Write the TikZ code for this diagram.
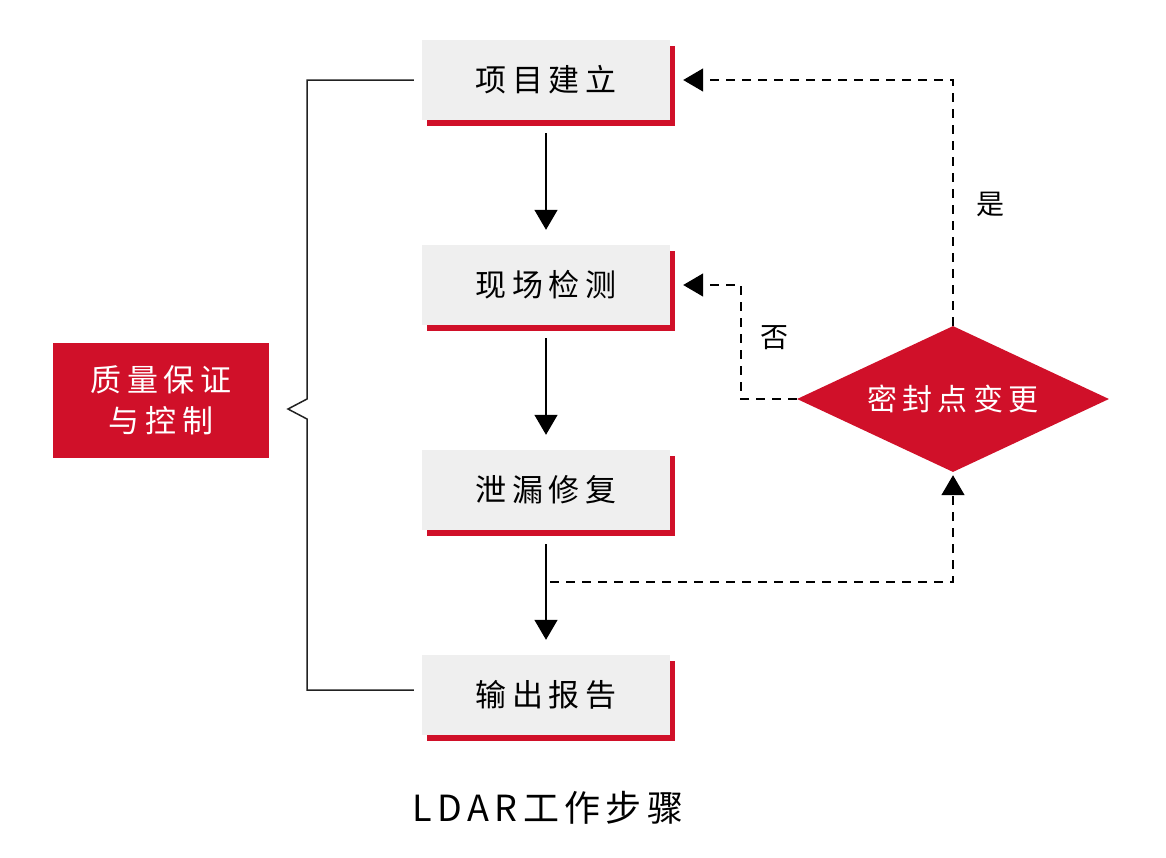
\documentclass[tikz,border=0pt]{standalone}
\usepackage{fontspec}
\setmainfont{Noto Sans CJK SC}
\newfontfamily\boxfont[LetterSpace=18]{Noto Sans CJK SC}
\newfontfamily\capfont[LetterSpace=15]{Noto Sans CJK SC}
\usetikzlibrary{arrows.meta,shadows,shapes.geometric}
\definecolor{cred}{HTML}{D01029}
\definecolor{cgray}{HTML}{EFEFEF}
\definecolor{cline}{HTML}{222222}
\tikzset{
  stepbox/.style={rectangle, fill=cgray, minimum width=248pt, minimum height=80pt, inner sep=0pt,
    font=\boxfont\fontsize{31pt}{36pt}\selectfont,
    drop shadow={shadow xshift=5pt, shadow yshift=-6pt, fill=cred, opacity=1}},
  flow/.style={line width=1.5pt, draw=black, -{Triangle[length=20pt,width=23pt]}},
  dflow/.style={flow, dash pattern=on 9pt off 7pt},
  lbl/.style={font=\fontsize{28pt}{32pt}\selectfont, inner sep=0pt},
}
\begin{document}
\begin{tikzpicture}[x=1pt,y=-1pt]
\useasboundingbox (0,0) rectangle (1166,857);
\node[stepbox] (b1) at (546,80) {项目建立};
\node[stepbox] (b2) at (546,285) {现场检测};
\node[stepbox] (b3) at (546,490) {泄漏修复};
\node[stepbox] (b4) at (546,695) {输出报告};
\node[diamond, fill=cred, minimum width=312pt, minimum height=146pt, aspect=2.14, inner sep=0pt,
  text=white, font=\boxfont\fontsize{30pt}{34pt}\selectfont] (d) at (953,399) {密封点变更};
\node[rectangle, fill=cred, minimum width=216pt, minimum height=115pt, inner sep=0pt, text=white,
  align=center, font=\boxfont\fontsize{31pt}{41pt}\selectfont] (q) at (161,400.5) {质量保证\\与控制};
\node[lbl] (yes) at (990,204) {是};
\node[lbl] (no) at (774,338) {否};
\node[font=\capfont\fontsize{36pt}{40pt}\selectfont, inner sep=0pt] (cap) at (548,808) {LDAR工作步骤};
% main flow
\draw[flow, shorten <=13pt, shorten >=15pt] (b1.south) -- (b2.north);
\draw[flow, shorten <=13pt, shorten >=15pt] (b2.south) -- (b3.north);
\draw[flow, shorten <=14pt, shorten >=15pt] (b3.south) -- (b4.north);
% dashed loops
\coordinate (tap) at (550,582);
\draw[dflow, shorten >=3pt] (tap) -- (tap -| d.south) -- (d.south);
\draw[dflow, shorten >=13pt] (d.west) -- (741,399) -- (741,285) -- (b2.east);
\draw[dflow, shorten >=13pt] (d.north) -- (d.north |- b1.east) -- (b1.east);
% bracket
\draw[line width=1.5pt, draw=cline] ([xshift=-8pt]b1.west) -- (307,80) -- (307,399) -- (288,409)
  -- (307,419) -- (307,690) -- ([xshift=-8pt]b4.west |- 0,690);
\end{tikzpicture}
\end{document}
